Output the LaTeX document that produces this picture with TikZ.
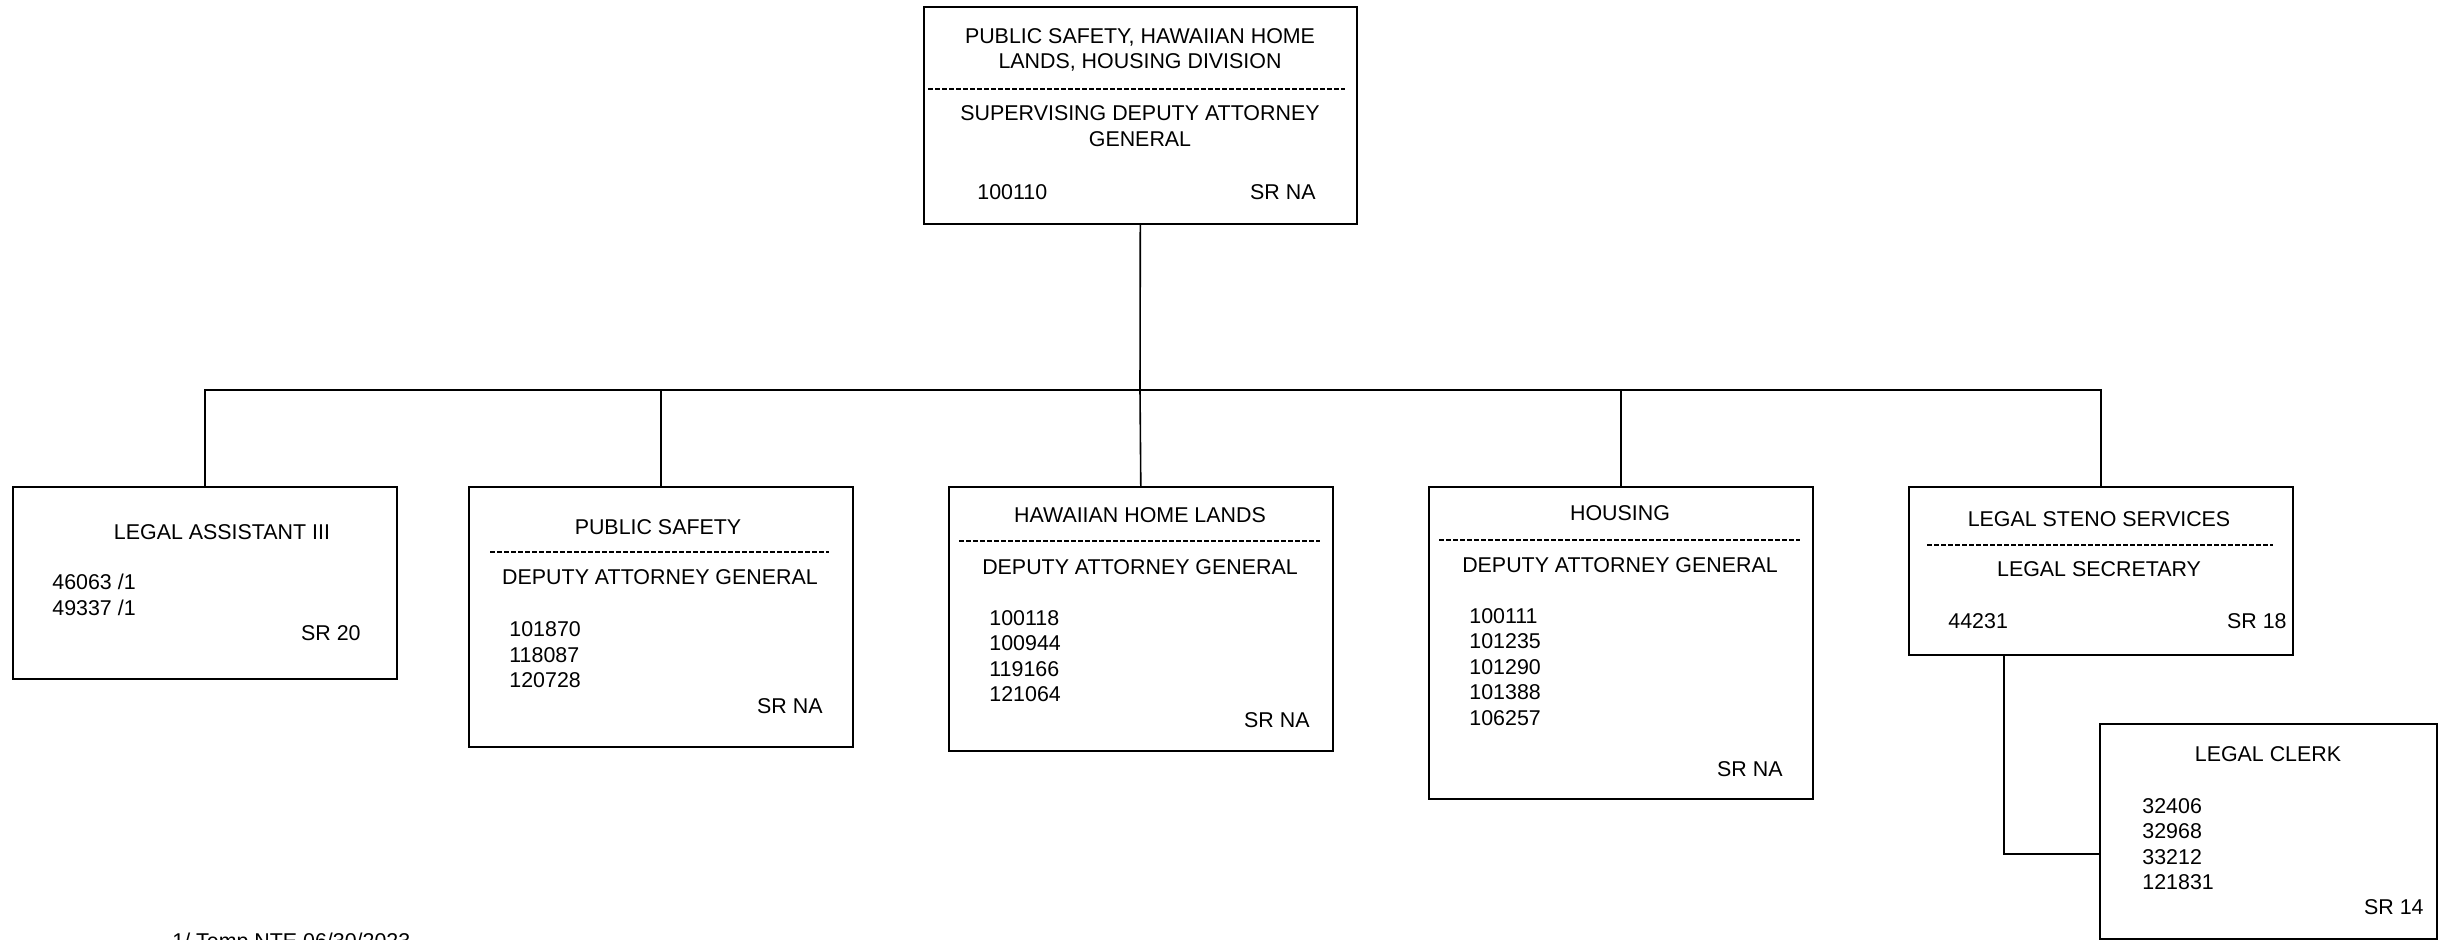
\documentclass[tikz,border=0pt]{standalone}
\usepackage{fontspec}
\setmainfont{Liberation Sans}
\tikzset{
  box/.style={draw, line width=0.8pt, shape=rectangle, anchor=north west, inner sep=0pt},
  txt/.style={inner sep=0pt, font=\fontsize{10.7}{12.9}\selectfont, align=center},
  ids/.style={inner sep=0pt, font=\fontsize{10.7}{12.7}\selectfont, align=left, anchor=west},
  grade/.style={inner sep=0pt, font=\fontsize{10.7}{12.7}\selectfont, anchor=east},
  divider/.style={line width=0.7pt, dash pattern=on 2.65pt off 0.85pt},
  link/.style={line width=0.8pt}
}
\begin{document}
\begin{tikzpicture}[x=0.5pt, y=-0.5pt]
\useasboundingbox (0,0) rectangle (2447,940);
% boxes
\node[box, minimum width=216.5pt, minimum height=108.5pt] (sdag) at (923,6) {};
\node[box, minimum width=192pt, minimum height=96pt] (la) at (12,486) {};
\node[box, minimum width=192pt, minimum height=130pt] (ps) at (468,486) {};
\node[box, minimum width=192pt, minimum height=132pt] (hhl) at (948,486) {};
\node[box, minimum width=192pt, minimum height=156pt] (hsg) at (1428,486) {};
\node[box, minimum width=192pt, minimum height=84pt] (steno) at (1908,486) {};
\node[box, minimum width=168.5pt, minimum height=107.5pt] (clerk) at (2099,723) {};
% texts
\node[txt] (sdag-t) at (1140,50) {PUBLIC SAFETY, HAWAIIAN HOME\\LANDS, HOUSING DIVISION};
\draw[divider] (928,89) -- (1345,89);
\node[txt] (sdag-r) at (1140,126) {SUPERVISING DEPUTY ATTORNEY\\GENERAL};
\node[ids] (sdag-i) at (977,192) {100110};
\node[grade] (sdag-g) at (1316,192) {SR NA};

\node[txt] (la-t) at (222,532) {LEGAL ASSISTANT III};
\node[ids] (la-i) at (52,595) {46063 /1\\49337 /1};
\node[grade] (la-g) at (361,633) {SR 20};

\node[txt] (ps-t) at (658,527) {PUBLIC SAFETY};
\draw[divider] (490,552) -- (829,552);
\node[txt] (ps-r) at (660,577) {DEPUTY ATTORNEY GENERAL};
\node[ids] (ps-i) at (509,655) {101870\\118087\\120728};
\node[grade] (ps-g) at (823,706) {SR NA};

\node[txt] (hhl-t) at (1140,515) {HAWAIIAN HOME LANDS};
\draw[divider] (959,541) -- (1320,541);
\node[txt] (hhl-r) at (1140,567) {DEPUTY ATTORNEY GENERAL};
\node[ids] (hhl-i) at (989,656) {100118\\100944\\119166\\121064};
\node[grade] (hhl-g) at (1310,720) {SR NA};

\node[txt] (hsg-t) at (1620,513) {HOUSING};
\draw[divider] (1439,540) -- (1800,540);
\node[txt] (hsg-r) at (1620,565) {DEPUTY ATTORNEY GENERAL};
\node[ids] (hsg-i) at (1469,667) {100111\\101235\\101290\\101388\\106257};
\node[grade] (hsg-g) at (1783,769) {SR NA};

\node[txt] (steno-t) at (2099,519) {LEGAL STENO SERVICES};
\draw[divider] (1927,545) -- (2273,545);
\node[txt] (steno-r) at (2099,569) {LEGAL SECRETARY};
\node[ids] (steno-i) at (1948,621) {44231};
\node[grade] (steno-g) at (2287,621) {SR 18};

\node[txt] (clerk-t) at (2268,754) {LEGAL CLERK};
\node[ids] (clerk-i) at (2142,844) {32406\\32968\\33212\\121831};
\node[grade] (clerk-g) at (2424,907) {SR 14};

\node[inner sep=0pt, font=\fontsize{10.7}{12.7}\selectfont, anchor=base west] (note) at (172,948) {1/ Temp NTE 06/30/2023};
% connectors
\coordinate (bar) at (1140,390);
\coordinate (knee) at (2004,854);
\draw[link] (sdag.south) -- (bar);
\draw[link] (la.north) |- (bar) -| (steno.north);
\draw[link] (ps.north) -- (ps.north |- bar);
\draw[link] (hhl.north) -- (bar);
\draw[link] (hsg.north) -- (hsg.north |- bar);
\draw[link] (steno.south -| knee) |- (clerk.west |- knee);
\end{tikzpicture}
\end{document}
